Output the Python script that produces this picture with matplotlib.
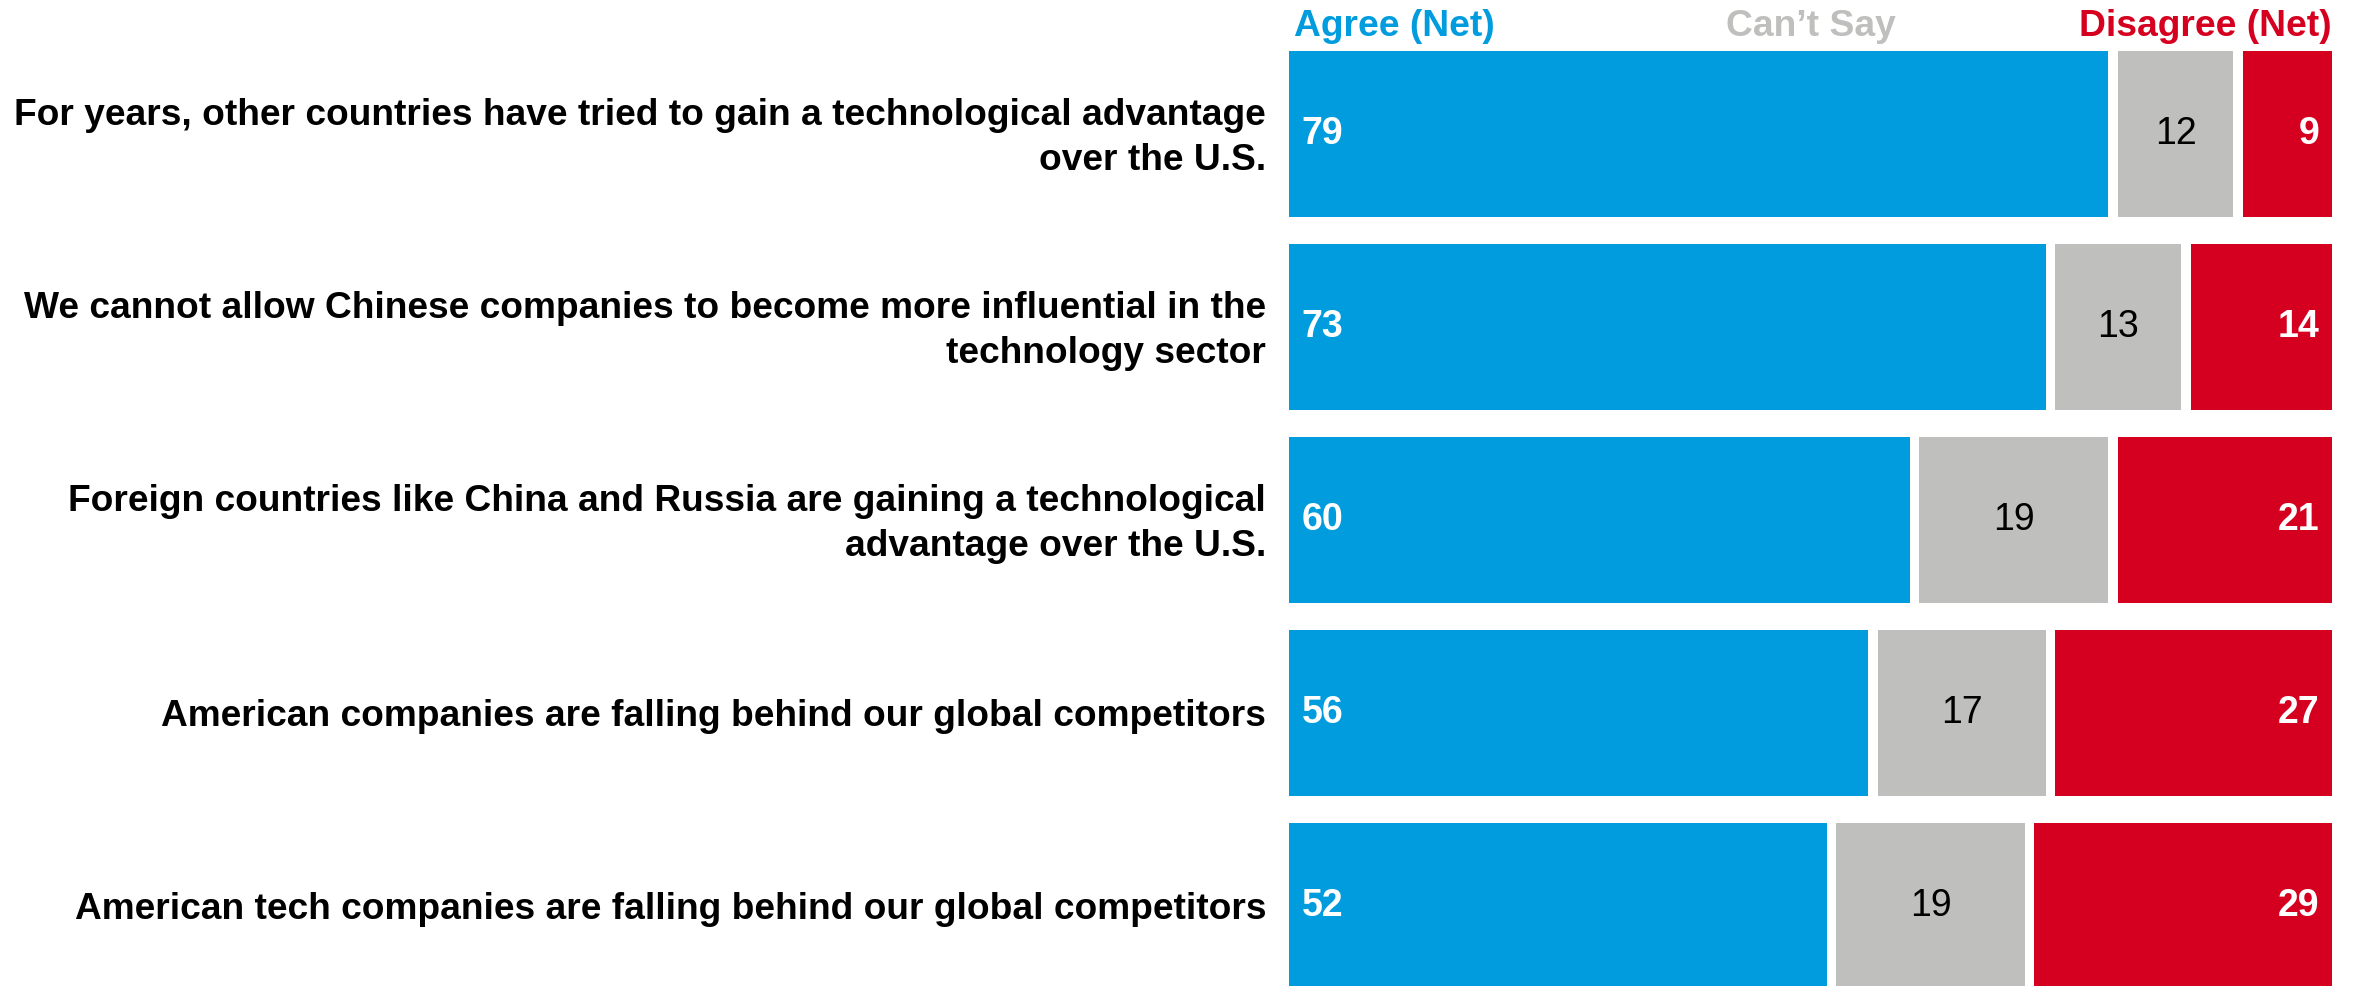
import matplotlib.pyplot as plt

# Survey statements and net shares (%)
statements = [
    "For years, other countries have tried to gain a technological advantage\nover the U.S.",
    "We cannot allow Chinese companies to become more influential in the\ntechnology sector",
    "Foreign countries like China and Russia are gaining a technological\nadvantage over the U.S.",
    "American companies are falling behind our global competitors",
    "American tech companies are falling behind our global competitors",
]
agree = [79, 73, 60, 56, 52]
cant_say = [12, 13, 19, 17, 19]
disagree = [9, 14, 21, 27, 29]

BLUE = "#009CDE"
GRAY = "#BFBFBD"
RED = "#D5001F"

plt.rcParams["font.family"] = ["Liberation Sans", "DejaVu Sans"]

W, H = 2354, 986
fig = plt.figure(figsize=(W / 100, H / 100), dpi=100)

# axes placed in pixels: bars run from x=1289 to x=2332, row pitch 193px
left, right = 1289, 2332
pitch = 193
top = 134 - pitch / 2
ax = fig.add_axes([left / W, (H - top - 5 * pitch) / H, (right - left) / W, 5 * pitch / H])
ax.set_xlim(0, 100)
ax.set_ylim(4.5, -0.5)
ax.axis("off")

gap = 0.45  # half of the white gap between segments, in % units
h = 166 / pitch
for i in range(len(statements)):
    a, c, d = agree[i], cant_say[i], disagree[i]
    ax.barh(i, a - gap, left=0, height=h, color=BLUE)
    ax.barh(i, c - 2 * gap, left=a + gap, height=h, color=GRAY)
    ax.barh(i, d - gap, left=a + c + gap, height=h, color=RED)

    ax.text(1.2, i, str(a), ha="left", va="center", color="white",
            fontsize=27, fontweight="bold")
    ax.text(a + c / 2, i, str(c), ha="center", va="center", color="black",
            fontsize=27)
    ax.text(98.8, i, str(d), ha="right", va="center", color="white",
            fontsize=27, fontweight="bold")

    ax.text(-2.2, i + 0.02, statements[i], ha="right", va="center", color="black",
            fontsize=26.7, fontweight="bold", linespacing=1.36, clip_on=False)

# column headers
hy = 1 - 27 / H
fig.text(1294 / W, hy, "Agree (Net)", ha="left", va="center", color=BLUE,
         fontsize=26.8, fontweight="bold")
fig.text((left + right) / 2 / W, hy, "Can\u2019t Say", ha="center", va="center",
         color=GRAY, fontsize=26.8, fontweight="bold")
fig.text(right / W, hy, "Disagree (Net)", ha="right", va="center", color=RED,
         fontsize=26.8, fontweight="bold")

fig.savefig("out.png", dpi=100)
